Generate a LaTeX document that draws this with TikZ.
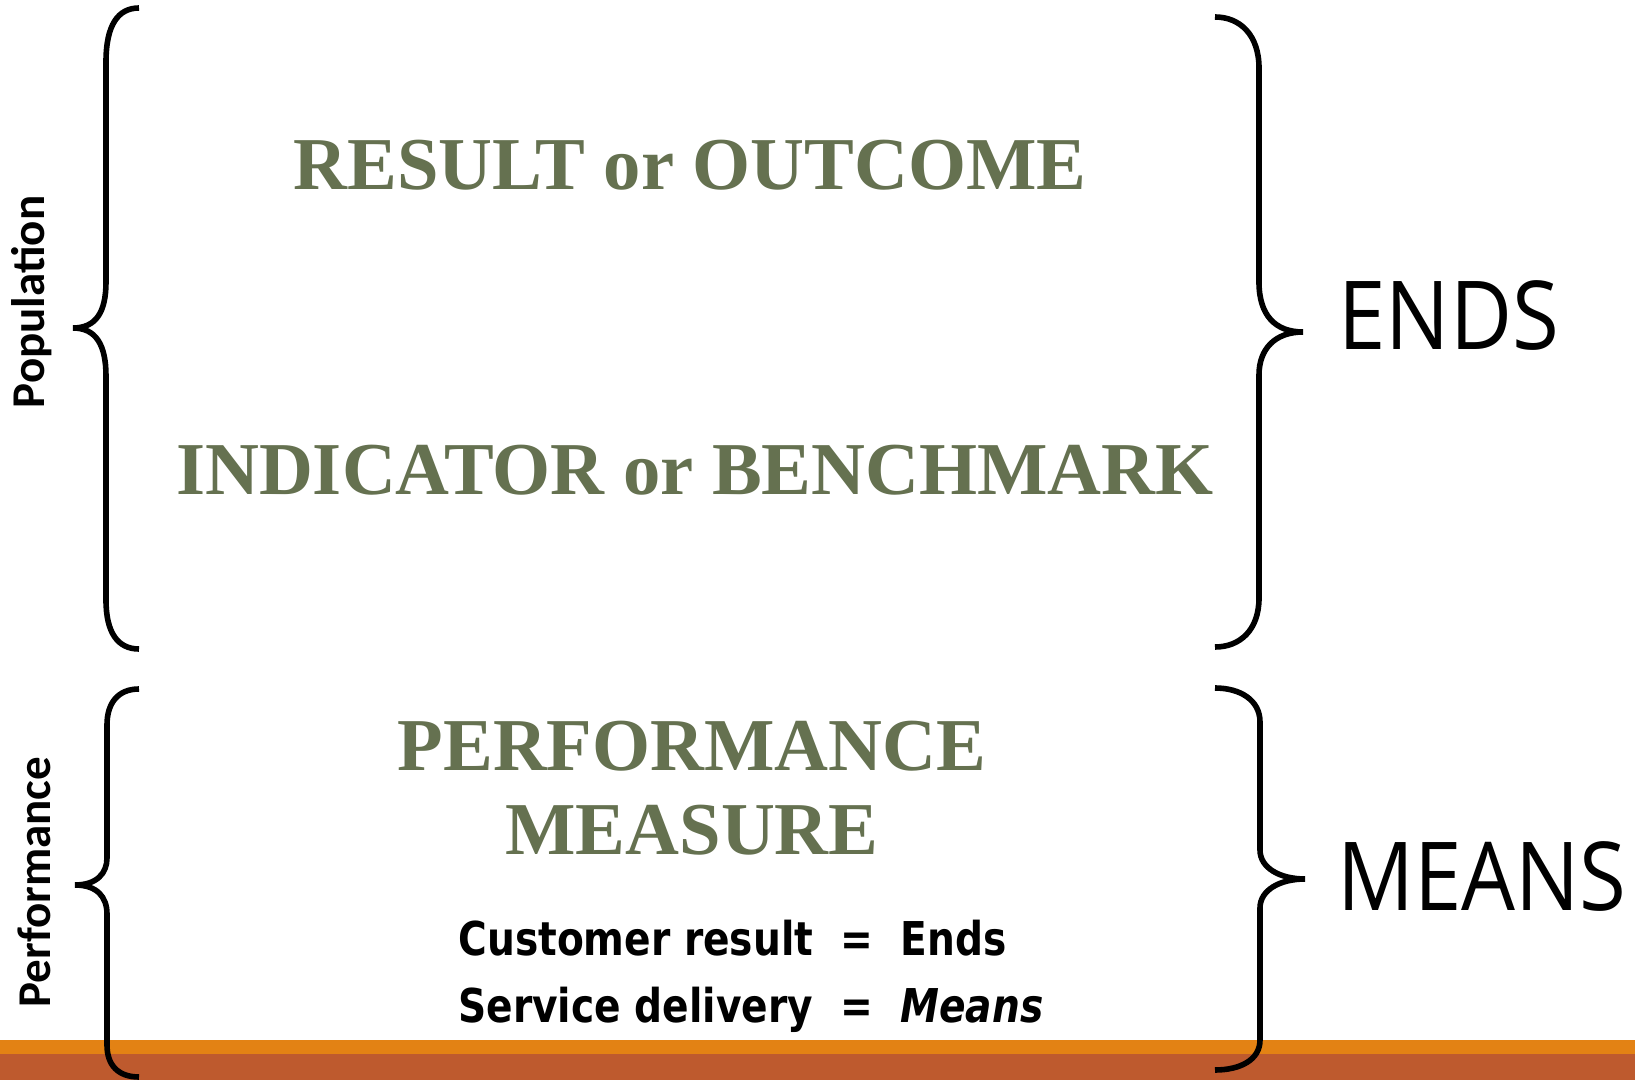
\documentclass[tikz,border=0pt]{standalone}
\usepackage{fontspec}
\setmainfont{Liberation Serif}
\newfontfamily\sidefont[FakeStretch=0.895]{Open Sans}
\newfontfamily\labfont{Carlito}
\newfontfamily\notefont[FakeStretch=0.84]{DejaVu Sans}
\usetikzlibrary{positioning}
\definecolor{olivetext}{RGB}{101,113,80}
\definecolor{barorange}{RGB}{227,130,20}
\definecolor{barrust}{RGB}{190,90,46}
\tikzset{
heading/.style={
  font=\bfseries\fontsize{37.3}{40}\selectfont,
  text=olivetext,
  inner sep=0pt,
  anchor=base
  },
side/.style={
  font=\sidefont\fontsize{47.6}{50}\selectfont,
  inner sep=0pt,
  anchor=base west
  },
vlabel/.style={
  font=\labfont\bfseries\fontsize{23.5}{26}\selectfont,
  rotate=90,
  inner sep=0pt,
  anchor=base
  },
note/.style={
  font=\notefont\bfseries\fontsize{23.3}{26}\selectfont,
  inner sep=0pt,
  anchor=base west
  },
curly/.style={line width=2.8pt, black}
}

\begin{document}
\begin{tikzpicture}[x=0.5pt,y=-0.5pt]
\useasboundingbox (0,0) rectangle (1635,1080);
\fill[white] (0,0) rectangle (1635,1080);

% bars at the bottom
\fill[barorange] (0,1040) rectangle (1635,1054);
\fill[barrust] (0,1054) rectangle (1635,1080);

% green headings
\node[heading] (result) at (690,190) {RESULT or OUTCOME};
\node[heading] (indicator) at (695,495) {INDICATOR or BENCHMARK};
\node[heading] (perf) at (692,770) {PERFORMANCE};
\node[heading] (measure) at ([yshift=-42.5pt]perf.base) {MEASURE};

% small notes
\node[note] (cust) at (458,955) {Customer result~~=~~Ends};
\node[note] (serv) at ([yshift=-33.5pt]cust.base west) {Service delivery~~=~~\itshape Means};

% side labels
\node[side] (ends) at (1338,350) {ENDS};
\node[side] (means) at (1337,910) {MEANS};
\node[vlabel] (popl) at (45,302) {Population};
\node[vlabel] (perfl) at (50,882) {Performance};

% braces
\begin{scope}
\draw[curly] (139,8) .. controls (118,8) and (106,25) .. (106,62)
  -- (106,282) .. controls (106,312) and (96,328) .. (73,328)
  .. controls (96,328) and (106,345) .. (106,376)
  -- (106,600) .. controls (106,633) and (118,649) .. (139,649);
\end{scope}

\begin{scope}
\draw[curly] (139,689) .. controls (118,689) and (107,703) .. (107,725)
  -- (107,858) .. controls (107,873) and (97,885) .. (75,885)
  .. controls (97,885) and (107,897) .. (107,914)
  -- (107,1045) .. controls (107,1065) and (118,1077) .. (139,1077);
\end{scope}

\begin{scope}
\draw[curly] (1215,17) .. controls (1240,17) and (1259,35) .. (1259,68)
  -- (1259,282) .. controls (1259,315) and (1275,332) .. (1303,332)
  .. controls (1275,332) and (1259,349) .. (1259,375)
  -- (1259,598) .. controls (1259,630) and (1240,647) .. (1215,647);
\end{scope}

\begin{scope}
\draw[curly] (1215,688) .. controls (1240,688) and (1260,700) .. (1260,722)
  -- (1260,850) .. controls (1260,868) and (1280,879) .. (1305,879)
  .. controls (1280,879) and (1260,890) .. (1260,908)
  -- (1260,1040) .. controls (1260,1060) and (1240,1070) .. (1215,1070);
\end{scope}
\end{tikzpicture}
\end{document}
